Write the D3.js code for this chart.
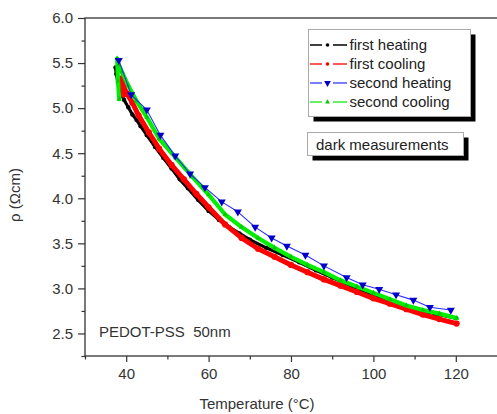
<!DOCTYPE html>
<html>
<head>
<meta charset="utf-8">
<script src="https://cdn.jsdelivr.net/npm/d3@7"></script>
<style>
  body { margin: 0; background: #fff; }
  svg { display: block; font-family: Arial, "Liberation Sans", sans-serif; }
</style>
</head>
<body>
<div id="chart"></div>
<script>
// Datos
const firstHeatT = [37.4, 37.6, 38.0, 38.6, 39.5, 40.5, 41.5, 42.5, 43.5, 45, 47, 49, 51, 53, 55, 57.5, 60, 62.5, 65, 67.5, 70, 74, 78, 82, 86, 90, 95, 100, 105, 110, 115, 120];
const firstHeatR = [5.45, 5.38, 5.28, 5.18, 5.09, 5.01, 4.93, 4.87, 4.80, 4.70, 4.57, 4.45, 4.33, 4.21, 4.11, 3.98, 3.86, 3.76, 3.68, 3.61, 3.54, 3.45, 3.37, 3.29, 3.20, 3.12, 3.02, 2.93, 2.85, 2.77, 2.72, 2.67];

const firstCoolT = [120.2, 116, 112, 108, 104, 100, 96, 92, 88, 84, 80, 76, 72, 68, 64, 60, 57, 54, 51, 48, 45.5, 43, 41.5, 40.2, 39.3, 38.9, 39.4];
const firstCoolR = [2.61, 2.66, 2.71, 2.77, 2.83, 2.89, 2.96, 3.03, 3.10, 3.18, 3.26, 3.35, 3.44, 3.56, 3.71, 3.90, 4.05, 4.21, 4.37, 4.55, 4.73, 4.92, 5.06, 5.16, 5.24, 5.33, 5.15];

const secondHeatT = [38.2, 41.2, 45.0, 48.3, 51.9, 55.5, 59.1, 63.2, 67.1, 71.3, 75.3, 79.0, 83.5, 88.0, 93.5, 97.4, 101.4, 105.5, 109.7, 113.7, 118.8];
const secondHeatR = [5.53, 5.15, 4.98, 4.70, 4.47, 4.27, 4.12, 3.96, 3.85, 3.68, 3.56, 3.47, 3.37, 3.25, 3.12, 3.04, 2.99, 2.93, 2.87, 2.79, 2.76];

const secondCoolT = [120.2, 116, 112, 108, 104, 100, 96, 92, 88, 84, 80, 76, 72, 68, 64, 60, 56, 52, 48, 45, 42.5, 40.5, 39, 38.2, 37.8, 38.0, 38.3];
const secondCoolR = [2.67, 2.72, 2.76, 2.81, 2.88, 2.95, 3.02, 3.09, 3.18, 3.26, 3.35, 3.45, 3.56, 3.68, 3.82, 4.04, 4.24, 4.45, 4.66, 4.90, 5.08, 5.25, 5.40, 5.48, 5.55, 5.30, 5.10];

const xTicks = [40, 60, 80, 100, 120];
const yTicks = [2.5, 3.0, 3.5, 4.0, 4.5, 5.0, 5.5, 6.0];
const legendNames = ["first heating", "first cooling", "second heating", "second cooling"];

// Constantes de visualizacion
const WIDTH = 497;
const HEIGHT = 414;
const margin = { top: 18, left: 85, bottom: 356 };
const FONT = "15px";

const svg = d3
  .select("#chart")
  .append("svg")
  .attr("width", WIDTH)
  .attr("height", HEIGHT);

// Escalas
const xScale = d3.scaleLinear().domain([30, 140]).range([margin.left, margin.left + 110 * 4.12]);
const yScale = d3.scaleLinear().domain([2.25, 6.0]).range([margin.bottom, margin.top]);

// Series
const series = [
  { name: legendNames[0], T: firstHeatT, R: firstHeatR, color: "#000000", width: 3.2, marker: "dot" },
  { name: legendNames[1], T: firstCoolT, R: firstCoolR, color: "#ff0000", width: 5, marker: "dot" },
  { name: legendNames[3], T: secondCoolT, R: secondCoolR, color: "#00ee00", width: 4.2, marker: "up" },
  { name: legendNames[2], T: secondHeatT, R: secondHeatR, color: "#2b2bff", width: 1.1, marker: "down" }
];

const plot = svg.append("g").attr("id", "plot");

const line = d3.line()
  .x(d => xScale(d[0]))
  .y(d => yScale(d[1]));

series.forEach(s => {
  const pts = s.T.map((t, i) => [t, s.R[i]]);
  plot.append("path")
    .datum(pts)
    .attr("fill", "none")
    .attr("stroke", s.color)
    .attr("stroke-width", s.width)
    .attr("stroke-linejoin", "round")
    .attr("stroke-linecap", "round")
    .attr("d", line);

  if (s.marker === "down") {
    plot.selectAll(null)
      .data(pts)
      .join("path")
      .attr("transform", d => `translate(${xScale(d[0])}, ${yScale(d[1])}) rotate(180)`)
      .attr("d", d3.symbol().type(d3.symbolTriangle).size(28))
      .attr("fill", "#0000c8");
  } else if (s.marker === "up") {
    plot.selectAll(null)
      .data(pts)
      .join("path")
      .attr("transform", d => `translate(${xScale(d[0])}, ${yScale(d[1])})`)
      .attr("d", d3.symbol().type(d3.symbolTriangle).size(12))
      .attr("fill", "#00cc00");
  } else {
    plot.selectAll(null)
      .data(pts)
      .join("circle")
      .attr("cx", d => xScale(d[0]))
      .attr("cy", d => yScale(d[1]))
      .attr("r", s.width / 2 + 0.6)
      .attr("fill", s.color);
  }
});

// Marco (el lado derecho queda fuera de la imagen)
svg.append("rect")
  .attr("x", margin.left)
  .attr("y", margin.top)
  .attr("width", 500)
  .attr("height", margin.bottom - margin.top)
  .attr("fill", "none")
  .attr("stroke", "#333")
  .attr("stroke-width", 1.3);

// Eje Y
const yaxis = svg.append("g")
  .attr("transform", `translate(${margin.left}, 0)`)
  .call(d3.axisLeft(yScale).tickValues(yTicks).tickFormat(d3.format(".1f")).tickSize(7).tickPadding(5));
svg.append("g")
  .attr("transform", `translate(${margin.left}, 0)`)
  .call(d3.axisLeft(yScale).tickValues(d3.range(2.25, 6.0, 0.5)).tickFormat("").tickSize(3.5));

// Eje X
const xaxis = svg.append("g")
  .attr("transform", `translate(0, ${margin.bottom})`)
  .call(d3.axisBottom(xScale).tickValues(xTicks).tickSize(6).tickPadding(6));
svg.append("g")
  .attr("transform", `translate(0, ${margin.bottom})`)
  .call(d3.axisBottom(xScale).tickValues([30, 50, 70, 90, 110]).tickFormat("").tickSize(3.5));

svg.selectAll(".domain").remove();
svg.selectAll(".tick line").attr("stroke", "#333").attr("stroke-width", 1.2);
svg.selectAll(".tick text").attr("font-size", FONT).attr("fill", "#333").attr("font-family", "Arial, 'Liberation Sans', sans-serif");

// Titulos de ejes
svg.append("text")
  .attr("x", 257)
  .attr("y", 409)
  .attr("text-anchor", "middle")
  .attr("font-size", FONT)
  .attr("fill", "#333")
  .text("Temperature (°C)");

svg.append("text")
  .attr("transform", "translate(20, 195) rotate(-90)")
  .attr("text-anchor", "middle")
  .attr("font-size", FONT)
  .attr("fill", "#333")
  .text("ρ (Ωcm)");

svg.append("text")
  .attr("x", 99)
  .attr("y", 337)
  .attr("font-size", FONT)
  .attr("fill", "#333")
  .style("white-space", "pre")
  .text("PEDOT-PSS  50nm");

// Leyenda
const legend = svg.append("g").attr("id", "legend");
legend.append("rect")
  .attr("x", 313.5).attr("y", 34.5).attr("width", 162).attr("height", 87)
  .attr("fill", "#000");
legend.append("rect")
  .attr("x", 308.5).attr("y", 29.5).attr("width", 162).attr("height", 87)
  .attr("fill", "#fff").attr("stroke", "#aaa").attr("stroke-width", 1);

const legendItems = [
  { name: legendNames[0], color: "#000000", mcolor: "#000", marker: "dot" },
  { name: legendNames[1], color: "#ff2020", mcolor: "#e00", marker: "dot" },
  { name: legendNames[2], color: "#5050ff", mcolor: "#0000c8", marker: "down" },
  { name: legendNames[3], color: "#30ee30", mcolor: "#00cc00", marker: "up" }
];

legendItems.forEach((it, i) => {
  const y = 45 + i * 19;
  const g = legend.append("g");
  g.append("line").attr("x1", 310).attr("x2", 322).attr("y1", y).attr("y2", y)
    .attr("stroke", it.color).attr("stroke-width", 1.5);
  g.append("line").attr("x1", 333).attr("x2", 347).attr("y1", y).attr("y2", y)
    .attr("stroke", it.color).attr("stroke-width", 1.5);
  if (it.marker === "dot") {
    g.append("circle").attr("cx", 327.5).attr("cy", y).attr("r", 1.8).attr("fill", it.mcolor);
  } else {
    g.append("path")
      .attr("transform", `translate(327.5, ${y})` + (it.marker === "down" ? " rotate(180)" : ""))
      .attr("d", d3.symbol().type(d3.symbolTriangle).size(it.marker === "down" ? 20 : 10))
      .attr("fill", it.mcolor);
  }
  g.append("text")
    .attr("x", 349.5)
    .attr("y", y + 5)
    .attr("font-size", FONT)
    .attr("fill", "#222")
    .text(it.name);
});

// Caja "dark measurements"
svg.append("rect")
  .attr("x", 312.5).attr("y", 137.5).attr("width", 156).attr("height", 23)
  .attr("fill", "#000");
svg.append("rect")
  .attr("x", 307.5).attr("y", 132.5).attr("width", 156).attr("height", 23)
  .attr("fill", "#fff").attr("stroke", "#aaa").attr("stroke-width", 1);
svg.append("text")
  .attr("x", 316)
  .attr("y", 149.5)
  .attr("font-size", FONT)
  .attr("fill", "#222")
  .text("dark measurements");
</script>
</body>
</html>
